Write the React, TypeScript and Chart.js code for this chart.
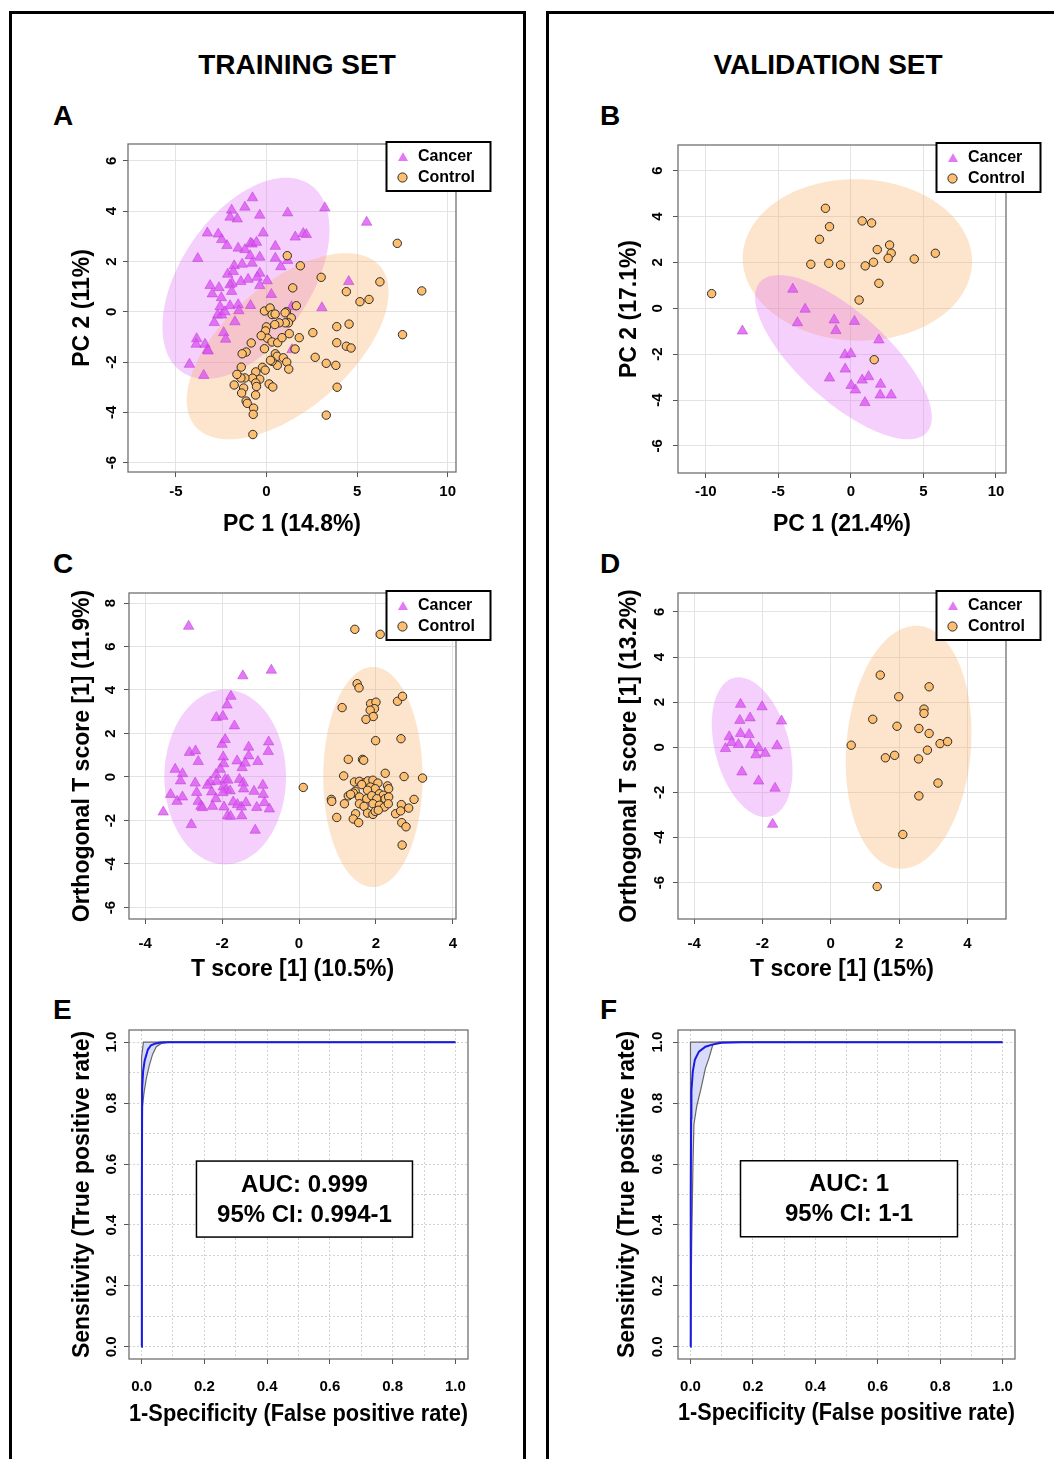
import React, { useEffect, useRef } from 'react';
import { Chart, registerables } from 'chart.js';

Chart.register(...registerables);

const FONT = "'Liberation Sans', Arial, Helvetica, sans-serif";

type Pt = [number, number];

// ---------------- Panel A : PCA, training set ----------------
const pcaTrainCancer: Pt[] = [
  [-0.77, 4.53], [-1.92, 4.04], [-1.19, 4.16], [-2.01, 3.76], [-1.61, 3.69], [-0.37, 3.84], [1.17, 3.93],
  [3.22, 4.13], [5.53, 3.56], [-3.26, 3.13], [-2.66, 3.09], [-2.47, 2.87], [-2.18, 2.63], [-1.56, 2.53],
  [-1.19, 2.47], [-0.88, 2.73], [-0.79, 2.69], [-0.55, 2.76], [-0.18, 3.13], [0.49, 2.6], [1.59, 2.97],
  [2.03, 3.11], [2.2, 3.07], [-3.79, 2.12], [-1.78, 1.83], [-1.34, 1.89], [-0.9, 2.23], [-0.79, 1.93],
  [-0.37, 2.17], [0.49, 2.13], [0.79, 1.79], [1.17, 2.04], [-2.14, 1.49], [-1.83, 1.6], [-0.37, 1.53],
  [-0.51, 1.37], [-1.01, 1.29], [-1.41, 1.2], [-1.9, 1.13], [-2.01, 1.07], [-3.11, 1.04], [-2.62, 0.96],
  [-2.99, 0.71], [-1.92, 0.81], [0.04, 1.23], [-0.37, 1.04], [0.27, 0.69], [-2.49, 0.56], [4.54, 1.2],
  [-2.56, 0.2], [-2.01, 0.24], [-1.56, 0.28], [-0.88, 0.25], [-1.52, 0.04], [3.06, 0.16], [1.39, 0.2],
  [-2.69, -0.13], [-2.47, -0.13], [-2.29, 0.0], [-2.88, -0.43], [-1.74, -0.4], [-2.36, -0.83], [-2.25, -1.09],
  [-3.85, -1.07], [-3.88, -1.29], [-3.39, -1.29], [-3.26, -1.53], [-3.21, -1.56], [1.41, -1.51], [-4.25, -2.09],
  [-3.46, -2.53],
];
const pcaTrainControl: Pt[] = [
  [1.15, 2.23], [1.87, 1.83], [3.02, 1.37], [1.45, 0.95], [4.41, 0.8], [6.26, 1.19], [7.22, 2.72], [8.57, 0.83],
  [5.16, 0.4], [5.66, 0.49], [1.65, 0.24], [1.1, 0.0], [1.03, -0.04], [1.37, -0.24], [-0.11, 0.03], [0.2, 0.15],
  [0.31, -0.11], [0.48, -0.09], [1.21, -0.44], [1.04, -0.44], [0.7, -0.44], [0.46, -0.51], [0.0, -0.6],
  [-0.05, -0.76], [0.05, -1.05], [-0.29, -0.95], [0.31, -1.2], [0.62, -1.23], [0.86, -1.03], [1.26, -0.87],
  [1.81, -1.03], [2.56, -0.83], [3.88, -0.59], [4.56, -0.49], [3.88, -1.23], [4.41, -1.37], [4.67, -1.44],
  [7.51, -0.91], [-0.84, -1.24], [-0.11, -1.47], [-1.12, -1.6], [-1.34, -1.67], [0.49, -1.67], [0.59, -1.77],
  [0.93, -1.83], [1.58, -1.48], [2.69, -1.81], [3.3, -2.05], [3.83, -2.13], [1.12, -2.0], [1.23, -2.28],
  [0.6, -2.13], [0.31, -1.97], [0.22, -1.93], [-1.39, -2.2], [-0.22, -2.21], [-0.07, -2.32], [-0.59, -2.39],
  [-0.37, -2.68], [-0.77, -2.64], [-1.19, -2.63], [-1.41, -2.63], [-1.63, -2.49], [-1.78, -2.91], [-1.26, -3.03],
  [-0.59, -2.83], [-0.55, -2.97], [0.15, -2.87], [0.35, -2.99], [-1.37, -3.23], [-0.6, -3.31], [-1.12, -3.55],
  [-1.06, -3.64], [-0.71, -3.83], [-0.73, -4.08], [3.3, -4.11], [3.9, -3.0], [-0.75, -4.88],
];
// ellipse: [centre x, centre y, half-width x, half-height y, correlation]
const pcaTrainCancerEllipse = [-1.13, 1.33, 4.61, 4.0, 0.48];
const pcaTrainControlEllipse = [1.17, -1.37, 5.57, 3.7, 0.58];
const pcaTrainXRange = [-7.64, 10.46];
const pcaTrainYRange = [-6.37, 6.67];
const pcaTrainXTicks = [-5, 0, 5, 10];
const pcaTrainYTicks = [-6, -4, -2, 0, 2, 4, 6];

// ---------------- Panel B : PCA, validation set ----------------
const pcaValControl: Pt[] = [
  [-1.75, 4.36], [-1.47, 3.56], [-2.16, 3.01], [0.78, 3.81], [1.43, 3.72], [-2.76, 1.92], [-1.52, 1.96],
  [-0.71, 1.89], [0.99, 1.85], [1.56, 2.01], [1.82, 2.56], [2.67, 2.76], [2.78, 2.4], [2.57, 2.18],
  [4.37, 2.15], [5.82, 2.4], [1.93, 1.09], [0.57, 0.36], [-9.59, 0.64], [1.61, -2.24],
];
const pcaValCancer: Pt[] = [
  [-4.0, 0.83], [-3.15, -0.04], [-3.68, -0.63], [-1.15, -0.51], [0.25, -0.57], [-1.03, -0.97], [-7.47, -0.99],
  [1.93, -1.38], [-0.41, -2.03], [0.0, -1.98], [-0.39, -2.65], [-1.47, -3.04], [0.78, -3.13], [1.22, -2.98],
  [0.02, -3.36], [0.32, -3.56], [2.05, -3.31], [2.02, -3.78], [2.78, -3.78], [0.97, -4.11],
];
const pcaValCancerEllipse = [-0.51, -2.13, 6.09, 3.58, -0.73];
const pcaValControlEllipse = [0.45, 2.11, 7.9, 3.52, -0.02];
const pcaValXRange = [-11.91, 10.69];
const pcaValYRange = [-7.18, 7.12];
const pcaValXTicks = [-10, -5, 0, 5, 10];
const pcaValYTicks = [-6, -4, -2, 0, 2, 4, 6];

// ---------------- Panel C : OPLS-DA, training set ----------------
const oplsTrainCancer: Pt[] = [
  [-2.87, 6.93], [-1.46, 4.65], [-0.72, 4.91], [-1.77, 3.71], [-1.87, 3.31], [-2.15, 2.73], [-1.98, 2.79],
  [-1.68, 2.35], [-2.0, 1.5], [-1.92, 1.72], [-2.85, 1.13], [-2.69, 1.2], [-2.62, 0.71], [-1.97, 0.92],
  [-1.96, 0.61], [-0.79, 1.61], [-0.8, 1.17], [-1.31, 1.37], [-1.31, 0.97], [-1.07, 0.71], [-1.61, 0.74],
  [-1.48, 0.43], [-1.4, 0.64], [-2.05, 0.35], [-2.16, 0.11], [-3.22, 0.35], [-3.03, 0.15], [-3.08, -0.18],
  [-2.7, -0.28], [-2.31, -0.23], [-2.38, -0.38], [-2.14, -0.2], [-1.92, -0.11], [-1.85, -0.15], [-1.97, -0.46],
  [-1.88, -0.58], [-1.79, -0.64], [-1.98, -0.72], [-1.55, -0.11], [-1.45, -0.28], [-1.44, -0.55], [-1.17, -0.66],
  [-0.94, -0.38], [-0.93, -0.8], [-3.34, -0.8], [-3.17, -1.12], [-3.03, -0.92], [-2.66, -0.71], [-2.62, -1.12],
  [-2.55, -1.35], [-2.51, -1.41], [-2.27, -0.69], [-2.16, -1.0], [-2.25, -1.35], [-1.95, -1.38], [-1.71, -1.15],
  [-1.6, -1.27], [-1.5, -1.38], [-1.38, -1.18], [-1.1, -1.4], [-0.9, -1.18], [-0.77, -1.47], [-3.53, -1.61],
  [-1.86, -1.79], [-1.78, -1.81], [-1.49, -1.79], [-2.8, -2.19], [-1.14, -2.45],
];
const oplsTrainControl: Pt[] = [
  [1.45, 6.79], [2.11, 6.56], [1.51, 4.29], [1.56, 4.1], [2.56, 3.48], [2.69, 3.71], [1.12, 3.19], [1.86, 3.37],
  [2.0, 3.44], [1.96, 3.14], [1.85, 3.07], [1.93, 2.78], [1.74, 2.65], [1.99, 1.67], [2.65, 1.76], [1.28, 0.81],
  [1.65, 0.81], [1.68, 0.77], [0.11, -0.48], [1.16, 0.05], [2.24, 0.17], [2.73, 0.02], [3.21, -0.05],
  [1.44, -0.23], [1.57, -0.2], [1.71, -0.26], [1.79, -0.18], [1.92, -0.15], [2.05, -0.28], [2.3, -0.41],
  [2.33, -0.54], [1.63, -0.35], [1.85, -0.46], [1.98, -0.54], [1.46, -0.66], [1.28, -0.87], [1.41, -0.74],
  [1.78, -0.61], [2.09, -0.77], [2.19, -0.84], [0.84, -1.03], [0.85, -1.12], [1.18, -1.23], [1.34, -0.8],
  [1.57, -0.92], [1.76, -1.0], [1.89, -0.86], [2.02, -1.0], [2.24, -1.0], [2.33, -0.92], [1.57, -1.23],
  [1.69, -1.35], [1.92, -1.23], [2.09, -1.3], [2.22, -1.38], [2.32, -1.23], [2.66, -1.27], [2.85, -1.43],
  [2.99, -1.03], [0.98, -1.86], [1.47, -1.69], [1.41, -1.93], [1.55, -2.1], [1.78, -1.66], [1.92, -1.72],
  [1.98, -1.58], [2.06, -1.53], [2.51, -1.69], [2.64, -1.56], [2.67, -2.1], [2.78, -2.29], [2.68, -3.13],
];
const oplsTrainCancerEllipse = [-1.92, 0.0, 1.58, 4.02, 0.0];
const oplsTrainControlEllipse = [1.92, 0.0, 1.29, 5.06, 0.0];
const oplsTrainXRange = [-4.42, 4.08];
const oplsTrainYRange = [-6.53, 8.46];
const oplsTrainXTicks = [-4, -2, 0, 2, 4];
const oplsTrainYTicks = [-6, -4, -2, 0, 2, 4, 6, 8];

// ---------------- Panel D : OPLS-DA, validation set ----------------
const oplsValCancer: Pt[] = [
  [-2.64, 1.9], [-2.01, 1.79], [-2.36, 1.3], [-2.66, 1.19], [-1.44, 1.16], [-2.97, 0.46], [-2.9, 0.21],
  [-2.64, 0.61], [-2.39, 0.56], [-2.7, 0.12], [-2.35, 0.12], [-3.08, -0.06], [-2.11, -0.03], [-2.19, -0.34],
  [-1.92, -0.27], [-1.57, 0.06], [-2.6, -1.1], [-2.11, -1.5], [-1.63, -1.82], [-1.7, -3.42],
];
const oplsValControl: Pt[] = [
  [1.45, 3.2], [2.88, 2.68], [1.99, 2.24], [2.73, 1.69], [2.73, 1.5], [1.23, 1.24], [1.94, 0.93], [2.58, 0.83],
  [2.88, 0.61], [0.6, 0.09], [3.2, 0.16], [3.42, 0.25], [2.83, -0.13], [1.6, -0.47], [1.87, -0.36], [2.57, -0.52],
  [3.14, -1.59], [2.58, -2.16], [2.11, -3.87], [1.36, -6.18],
];
const oplsValCancerEllipse = [-2.3, 0.0, 1.18, 3.1, -0.33];
const oplsValControlEllipse = [2.28, 0.0, 1.84, 5.39, 0.12];
const oplsValXRange = [-4.47, 5.13];
const oplsValYRange = [-7.62, 6.84];
const oplsValXTicks = [-4, -2, 0, 2, 4];
const oplsValYTicks = [-6, -4, -2, 0, 2, 4, 6];

// ---------------- Panels E / F : ROC ----------------
const rocTrainCurve: Pt[] = [
  [0, 0], [0.001, 0.5], [0.002, 0.85], [0.005, 0.905], [0.01, 0.94], [0.02, 0.975], [0.03, 0.99],
  [0.045, 0.996], [0.06, 0.999], [0.08, 1], [1, 1],
];
const rocTrainLower: Pt[] = [
  [0, 0], [0.001, 0.6], [0.003, 0.79], [0.008, 0.835], [0.015, 0.88], [0.025, 0.925], [0.035, 0.96],
  [0.047, 0.985], [0.063, 0.996], [0.09, 1], [1, 1],
];
const rocTrainUpper: Pt[] = [[0, 0], [0, 0.95], [0.006, 1], [1, 1]];
const rocTrainAuc = ['AUC: 0.999', '95% CI: 0.994-1'];

const rocValCurve: Pt[] = [
  [0, 0], [0.001, 0.5], [0.002, 0.75], [0.003, 0.84], [0.0075, 0.904], [0.014, 0.942], [0.027, 0.969],
  [0.048, 0.985], [0.069, 0.992], [0.1, 0.998], [0.165, 1], [1, 1],
];
const rocValLower: Pt[] = [
  [0, 0], [0.004, 0.35], [0.008, 0.6], [0.011, 0.73], [0.02, 0.79], [0.032, 0.84], [0.048, 0.915],
  [0.059, 0.947], [0.071, 0.99], [0.09, 1], [1, 1],
];
const rocValUpper: Pt[] = [[0, 0], [0, 1], [1, 1]];
const rocValAuc = ['AUC: 1', '95% CI: 1-1'];

const rocRange = [-0.04, 1.04];
const rocTicks = [0, 0.1, 0.2, 0.3, 0.4, 0.5, 0.6, 0.7, 0.8, 0.9, 1.0];

// ---------------- styles ----------------
const CANCER_PT = 'rgba(220, 88, 242, 0.8)';
const CANCER_EDGE = 'rgba(185, 55, 210, 0.85)';
const CONTROL_PT = '#FDBE6F';
const CONTROL_EDGE = '#2b2b2b';
const CANCER_ELL = 'rgba(224, 110, 250, 0.32)';
const CONTROL_ELL = 'rgba(248, 170, 95, 0.32)';
const ROC_BLUE = '#1a1ae6';
const CI_FILL = 'rgba(190, 195, 245, 0.6)';
const CI_LINE = '#666666';

const PL = 90, PT = 8, PR = 40, PB = 80;

type PanelSpec = {
  kind: 'scatter' | 'roc';
  box: number[]; // L, T, R, B on page
  xRange: number[]; yRange: number[];
  xTicks: number[]; yTicks: number[];
  xTitle: string; yTitle: string;
  xTickGap: number; xTitleGap: number; yTickGap: number; yTitleGap: number;
  cancer?: Pt[]; control?: Pt[];
  ellipses?: { p: number[]; color: string }[];
  roc?: { curve: Pt[]; lower: Pt[]; upper: Pt[]; auc: string[]; aucAt: Pt; aucW: number };
};

const PANELS: PanelSpec[] = [
  {
    kind: 'scatter', box: [128, 144, 456, 472],
    xRange: pcaTrainXRange, yRange: pcaTrainYRange, xTicks: pcaTrainXTicks, yTicks: pcaTrainYTicks,
    xTitle: 'PC 1 (14.8%)', yTitle: 'PC 2 (11%)',
    xTickGap: 20, xTitleGap: 53, yTickGap: 16, yTitleGap: 45,
    cancer: pcaTrainCancer, control: pcaTrainControl,
    ellipses: [{ p: pcaTrainCancerEllipse, color: CANCER_ELL }, { p: pcaTrainControlEllipse, color: CONTROL_ELL }],
  },
  {
    kind: 'scatter', box: [678, 145, 1006, 473],
    xRange: pcaValXRange, yRange: pcaValYRange, xTicks: pcaValXTicks, yTicks: pcaValYTicks,
    xTitle: 'PC 1 (21.4%)', yTitle: 'PC 2 (17.1%)',
    xTickGap: 19, xTitleGap: 52, yTickGap: 20, yTitleGap: 48,
    cancer: pcaValCancer, control: pcaValControl,
    ellipses: [{ p: pcaValControlEllipse, color: CONTROL_ELL }, { p: pcaValCancerEllipse, color: CANCER_ELL }],
  },
  {
    kind: 'scatter', box: [129, 593, 456, 919],
    xRange: oplsTrainXRange, yRange: oplsTrainYRange, xTicks: oplsTrainXTicks, yTicks: oplsTrainYTicks,
    xTitle: 'T score [1] (10.5%)', yTitle: 'Orthogonal T score [1] (11.9%)',
    xTickGap: 25, xTitleGap: 51, yTickGap: 18, yTitleGap: 46,
    cancer: oplsTrainCancer, control: oplsTrainControl,
    ellipses: [{ p: oplsTrainCancerEllipse, color: CANCER_ELL }, { p: oplsTrainControlEllipse, color: CONTROL_ELL }],
  },
  {
    kind: 'scatter', box: [678, 593, 1006, 919],
    xRange: oplsValXRange, yRange: oplsValYRange, xTicks: oplsValXTicks, yTicks: oplsValYTicks,
    xTitle: 'T score [1] (15%)', yTitle: 'Orthogonal T score [1] (13.2%)',
    xTickGap: 25, xTitleGap: 51, yTickGap: 18, yTitleGap: 48,
    cancer: oplsValCancer, control: oplsValControl,
    ellipses: [{ p: oplsValCancerEllipse, color: CANCER_ELL }, { p: oplsValControlEllipse, color: CONTROL_ELL }],
  },
  {
    kind: 'roc', box: [129, 1030, 468, 1359],
    xRange: rocRange, yRange: rocRange, xTicks: rocTicks, yTicks: rocTicks,
    xTitle: '1-Specificity (False positive rate)', yTitle: 'Sensitivity (True positive rate)',
    xTickGap: 27.5, xTitleGap: 56, yTickGap: 17, yTitleGap: 46,
    roc: { curve: rocTrainCurve, lower: rocTrainLower, upper: rocTrainUpper, auc: rocTrainAuc, aucAt: [0.519, 0.485], aucW: 216 },
  },
  {
    kind: 'roc', box: [678, 1030, 1015, 1359],
    xRange: rocRange, yRange: rocRange, xTicks: rocTicks, yTicks: rocTicks,
    xTitle: '1-Specificity (False positive rate)', yTitle: 'Sensitivity (True positive rate)',
    xTickGap: 28, xTitleGap: 55, yTickGap: 20, yTitleGap: 50,
    roc: { curve: rocValCurve, lower: rocValLower, upper: rocValUpper, auc: rocValAuc, aucAt: [0.508, 0.486], aucW: 217 },
  },
];

function tickLabel(kind: string, v: number): string {
  if (kind === 'roc') return Math.round(v * 10) % 2 === 0 ? v.toFixed(1) : '';
  return String(v);
}

function drawTriangle(ctx: CanvasRenderingContext2D, x: number, y: number, r: number) {
  ctx.beginPath();
  for (let i = 0; i < 3; i++) {
    const a = (i * 2 * Math.PI) / 3;
    const px = x + Math.sin(a) * r;
    const py = y - Math.cos(a) * r;
    if (i === 0) ctx.moveTo(px, py); else ctx.lineTo(px, py);
  }
  ctx.closePath();
}

function makeDecor(spec: PanelSpec) {
  return {
    id: 'decor',
    beforeDatasetsDraw(chart: any) {
      const { ctx, chartArea: a, scales } = chart;
      const px = (v: number) => scales.x.getPixelForValue(v);
      const py = (v: number) => scales.y.getPixelForValue(v);
      ctx.save();
      ctx.beginPath();
      ctx.rect(a.left, a.top, a.right - a.left, a.bottom - a.top);
      ctx.clip();
      if (spec.ellipses) {
        for (const e of spec.ellipses) {
          const [cx, cy, sx, sy, r] = e.p;
          const k = Math.sqrt(1 - r * r);
          ctx.beginPath();
          for (let i = 0; i <= 180; i++) {
            const t = (i / 180) * Math.PI * 2;
            const X = px(cx + sx * Math.cos(t));
            const Y = py(cy + sy * (r * Math.cos(t) + k * Math.sin(t)));
            if (i === 0) ctx.moveTo(X, Y); else ctx.lineTo(X, Y);
          }
          ctx.closePath();
          ctx.fillStyle = e.color;
          ctx.fill();
        }
      }
      if (spec.roc) {
        const poly = spec.roc.upper.concat([...spec.roc.lower].reverse());
        ctx.beginPath();
        poly.forEach(([x, y], i) => {
          if (i === 0) ctx.moveTo(px(x), py(y)); else ctx.lineTo(px(x), py(y));
        });
        ctx.closePath();
        ctx.fillStyle = CI_FILL;
        ctx.fill();
      }
      ctx.restore();
    },
    afterDraw(chart: any) {
      const { ctx, chartArea: a, scales } = chart;
      const px = (v: number) => scales.x.getPixelForValue(v);
      const py = (v: number) => scales.y.getPixelForValue(v);
      ctx.save();
      // plot frame
      ctx.strokeStyle = '#707070';
      ctx.lineWidth = 1.3;
      ctx.strokeRect(a.left, a.top, a.right - a.left, a.bottom - a.top);
      // rotated y tick labels
      ctx.font = `bold 15px ${FONT}`;
      ctx.fillStyle = '#000';
      ctx.textAlign = 'center';
      ctx.textBaseline = 'middle';
      for (const t of scales.y.ticks) {
        const lab = tickLabel(spec.kind, t.value);
        if (!lab) continue;
        ctx.save();
        ctx.translate(a.left - spec.yTickGap, py(t.value));
        ctx.rotate(-Math.PI / 2);
        ctx.fillText(lab, 0, 0);
        ctx.restore();
      }
      // legend
      if (spec.kind === 'scatter') {
        const lx = a.right - 69.5, ly = a.top - 2, lw = 104, lh = 49;
        ctx.fillStyle = '#fff';
        ctx.fillRect(lx, ly, lw, lh);
        ctx.strokeStyle = '#000';
        ctx.lineWidth = 2;
        ctx.strokeRect(lx, ly, lw, lh);
        drawTriangle(ctx, lx + 16.5, ly + 16, 5.8);
        ctx.fillStyle = CANCER_PT;
        ctx.fill();
        ctx.beginPath();
        ctx.arc(lx + 16, ly + 35.5, 4.6, 0, Math.PI * 2);
        ctx.fillStyle = CONTROL_PT;
        ctx.fill();
        ctx.strokeStyle = CONTROL_EDGE;
        ctx.lineWidth = 1;
        ctx.stroke();
        ctx.fillStyle = '#000';
        ctx.font = `bold 16px ${FONT}`;
        ctx.textAlign = 'left';
        ctx.fillText('Cancer', lx + 31.5, ly + 14.5);
        ctx.fillText('Control', lx + 31.5, ly + 35.5);
      }
      // AUC box
      if (spec.roc) {
        const cx = px(spec.roc.aucAt[0]);
        const cy = py(spec.roc.aucAt[1]);
        const w = spec.roc.aucW, h = 76;
        ctx.fillStyle = '#fff';
        ctx.fillRect(cx - w / 2, cy - h / 2, w, h);
        ctx.strokeStyle = '#000';
        ctx.lineWidth = 1.5;
        ctx.strokeRect(cx - w / 2, cy - h / 2, w, h);
        ctx.fillStyle = '#000';
        ctx.font = `bold 24px ${FONT}`;
        ctx.textAlign = 'center';
        ctx.fillText(spec.roc.auc[0], cx, cy - 14);
        ctx.fillText(spec.roc.auc[1], cx, cy + 16);
      }
      ctx.restore();
    },
  };
}

function makeScale(spec: PanelSpec, axis: 'x' | 'y') {
  const isX = axis === 'x';
  const isRoc = spec.kind === 'roc';
  const range = isX ? spec.xRange : spec.yRange;
  const ticks = isX ? spec.xTicks : spec.yTicks;
  return {
    type: 'linear',
    position: isX ? 'bottom' : 'left',
    min: range[0],
    max: range[1],
    bounds: 'data',
    afterBuildTicks: (s: any) => { s.ticks = ticks.map((v) => ({ value: v })); },
    afterFit: (s: any) => { if (isX) s.height = PB; else s.width = PL; },
    grid: {
      color: isRoc ? '#d2d2d2' : '#e3e3e3',
      lineWidth: 1,
      drawTicks: true,
      tickLength: 5,
      tickWidth: 1,
      tickColor: (c: any) =>
        !isRoc || (c.tick && Math.round(c.tick.value * 10) % 2 === 0) ? '#555' : 'rgba(0,0,0,0)',
    },
    border: { display: false, dash: isRoc ? [2, 2] : [] },
    ticks: isX
      ? {
          display: true, autoSkip: false, maxRotation: 0, minRotation: 0,
          padding: spec.xTickGap - 14, color: '#000',
          font: { size: 15, weight: 'bold', family: FONT },
          callback: (v: any) => tickLabel(spec.kind, Number(v)),
        }
      : { display: false },
    title: {
      display: true,
      text: isX ? spec.xTitle : spec.yTitle,
      color: '#000',
      font: { size: 23, weight: 'bold', family: FONT },
      padding: isX
        ? { top: 0, bottom: PB - spec.xTitleGap - 13.8 }
        : { top: PL - spec.yTitleGap - 13.8, bottom: 0 },
    },
  };
}

function Panel({ spec }: { spec: PanelSpec }) {
  const ref = useRef<HTMLCanvasElement>(null);
  const [L, T, R, B] = spec.box;
  const W = R - L + PL + PR;
  const H = B - T + PT + PB;

  useEffect(() => {
    const toXY = (p: Pt[]) => p.map(([x, y]) => ({ x, y }));
    let datasets: any[];
    if (spec.kind === 'scatter') {
      datasets = [
        {
          label: 'Control', data: toXY(spec.control!), pointStyle: 'circle', pointRadius: 4.2,
          backgroundColor: CONTROL_PT, borderColor: CONTROL_EDGE, borderWidth: 1,
        },
        {
          label: 'Cancer', data: toXY(spec.cancer!), pointStyle: 'triangle', pointRadius: 6,
          backgroundColor: CANCER_PT, borderColor: CANCER_EDGE, borderWidth: 0.6,
        },
      ];
    } else {
      const r = spec.roc!;
      datasets = [
        { label: 'ROC', data: toXY(r.curve), borderColor: ROC_BLUE, borderWidth: 2, pointRadius: 0, fill: false, tension: 0 },
        { label: 'CI lower', data: toXY(r.lower), borderColor: CI_LINE, borderWidth: 1.2, pointRadius: 0, fill: false, tension: 0 },
        { label: 'CI upper', data: toXY(r.upper), borderColor: CI_LINE, borderWidth: 1.2, pointRadius: 0, fill: false, tension: 0 },
      ];
    }
    const chart = new Chart(ref.current as HTMLCanvasElement, {
      type: spec.kind === 'scatter' ? 'scatter' : 'line',
      data: { datasets },
      options: {
        responsive: false,
        animation: false,
        events: [],
        devicePixelRatio: 1,
        layout: { autoPadding: false, padding: { left: 0, top: PT, right: PR, bottom: 0 } },
        plugins: { legend: { display: false }, tooltip: { enabled: false } },
        scales: { x: makeScale(spec, 'x'), y: makeScale(spec, 'y') },
      } as any,
      plugins: [makeDecor(spec)],
    } as any);
    return () => chart.destroy();
  }, []);

  return (
    <canvas
      ref={ref}
      width={W}
      height={H}
      style={{ position: 'absolute', left: L - PL, top: T - PT, width: W, height: H }}
    />
  );
}

const textStyle: React.CSSProperties = {
  position: 'absolute',
  fontFamily: FONT,
  fontWeight: 'bold',
  fontSize: 28,
  lineHeight: '28px',
  color: '#000',
  whiteSpace: 'nowrap',
};

const LETTERS: [string, number, number][] = [
  ['A', 53, 102], ['B', 600, 102], ['C', 53, 550], ['D', 600, 550], ['E', 53, 996], ['F', 600, 996],
];

export default function App() {
  return (
    <div
      style={{
        position: 'absolute', left: 0, top: 0, width: 1054, height: 1459,
        background: '#fff', overflow: 'hidden',
      }}
    >
      <div style={{ position: 'absolute', left: 9, top: 11, width: 517, height: 1500, boxSizing: 'border-box', border: '3px solid #000' }} />
      <div style={{ position: 'absolute', left: 546, top: 11, width: 600, height: 1500, boxSizing: 'border-box', border: '3px solid #000' }} />
      <div style={{ ...textStyle, left: 97, width: 400, top: 51, textAlign: 'center' }}>TRAINING SET</div>
      <div style={{ ...textStyle, left: 628, width: 400, top: 51, textAlign: 'center' }}>VALIDATION SET</div>
      {LETTERS.map(([t, x, y]) => (
        <div key={t} style={{ ...textStyle, left: x, top: y }}>{t}</div>
      ))}
      {PANELS.map((p, i) => (
        <Panel key={i} spec={p} />
      ))}
    </div>
  );
}
